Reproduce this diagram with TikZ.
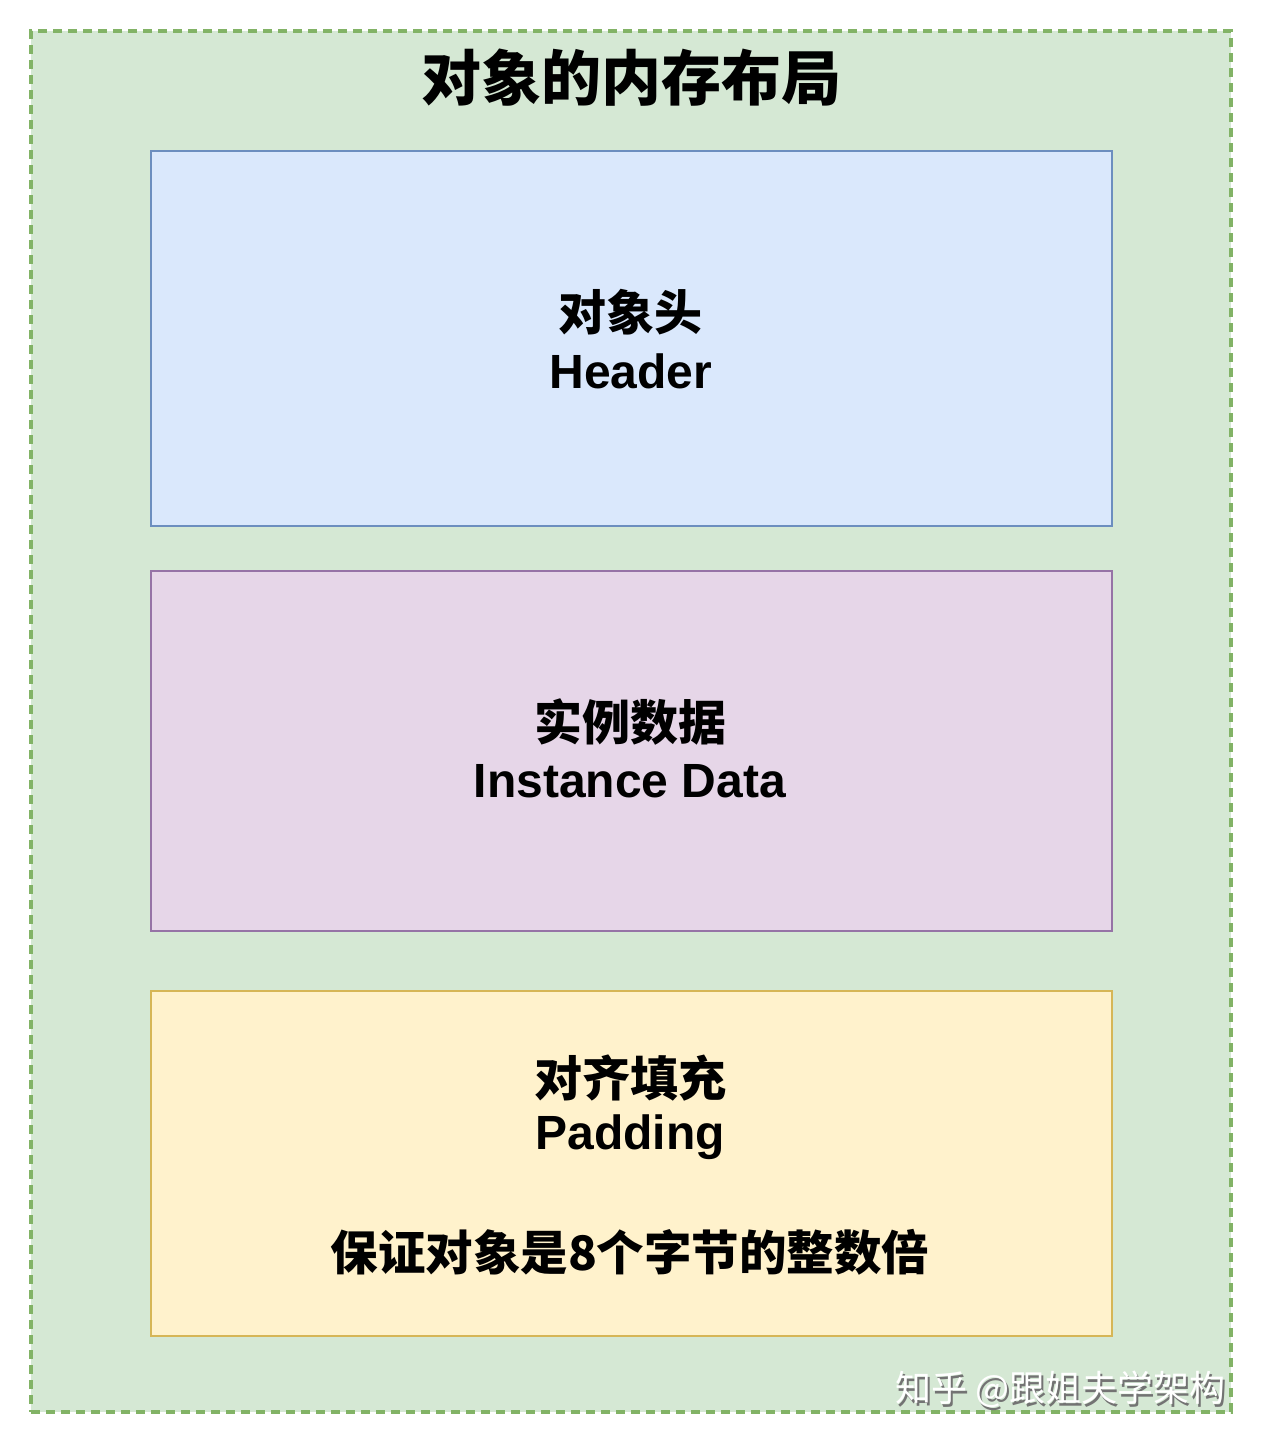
\documentclass[tikz,border=0pt]{standalone}
\usepackage{fontspec}
\setmainfont{Liberation Sans}
\newfontfamily\cjk{Noto Sans CJK SC}
\definecolor{gfill}{HTML}{D5E8D4}
\definecolor{gdraw}{HTML}{82B366}
\definecolor{bfill}{HTML}{DAE8FC}
\definecolor{bdraw}{HTML}{6C8EBF}
\definecolor{pfill}{HTML}{E6D6E8}
\definecolor{pdraw}{HTML}{9673A6}
\definecolor{yfill}{HTML}{FFF2CC}
\definecolor{ydraw}{HTML}{D6B656}
\newcommand{\wmtext}{知乎 @跟姐夫学架构}
\tikzset{
  layerbox/.style={draw, line width=2.6pt, minimum width=961pt, inner sep=0pt, align=center},
  zh/.style={font=\cjk\bfseries\fontsize{48}{58}\selectfont},
  en/.style={font=\bfseries\fontsize{48}{58}\selectfont},
  wmark/.style={font=\cjk\fontsize{36}{42}\selectfont, anchor=east, inner sep=0pt},
}
\begin{document}
\begin{tikzpicture}[x=1pt,y=-1pt]
\useasboundingbox (0,0) rectangle (1263,1443);
\fill[white] (0,0) rectangle (1263,1443);
\node[draw=gdraw, fill=gfill, line width=3.4pt, dash pattern=on 9pt off 6pt, minimum width=1200pt, minimum height=1381pt, inner sep=0pt] (outer) at (631,721.5) {};
\node[font=\cjk\bfseries\fontsize{60}{72}\selectfont] (title) at (631,78) {对象的内存布局};
\node[layerbox, draw=bdraw, fill=bfill, minimum height=375pt] (header) at (631.5,338.5) {};
\node[layerbox, draw=pdraw, fill=pfill, minimum height=360pt] (inst) at (631.5,751) {};
\node[layerbox, draw=ydraw, fill=yfill, minimum height=345pt] (pad) at (631.5,1163.5) {};
\node[zh] (t1a) at (630,312) {对象头};
\node[en] (t1b) at (631,371) {Header};
\node[zh] (t2a) at (630,722) {实例数据};
\node[en] (t2b) at (630,781) {Instance Data};
\node[zh] (t3a) at (630,1078) {对齐填充};
\node[en] (t3b) at (630,1137) {Padding};
\node[font=\cjk\bfseries\fontsize{47.5}{58}\selectfont] (t3c) at (630,1252) {保证对象是8个字节的整数倍};
\node[wmark] (wm) at (1226,1391) {\makebox[0pt][l]{\hspace{2pt}\raisebox{-2.5pt}{\textcolor{black!55}{\wmtext}}}\textcolor{white}{\wmtext}};
\end{tikzpicture}
\end{document}
